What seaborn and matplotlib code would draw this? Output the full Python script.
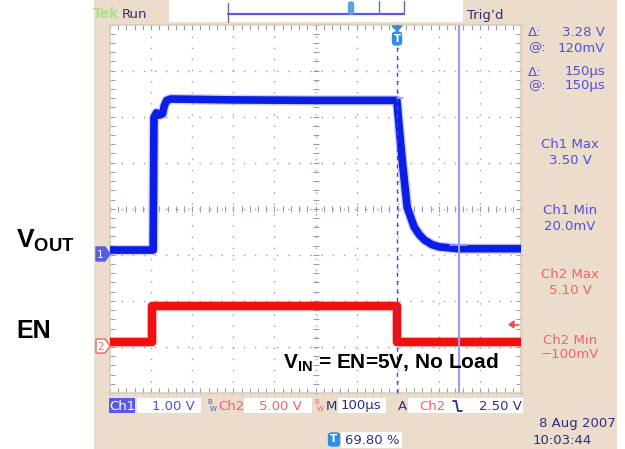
import numpy as np
import pandas as pd
import matplotlib
matplotlib.use("Agg")
import matplotlib.pyplot as plt
import seaborn as sns
from matplotlib.patches import Rectangle, Polygon, FancyBboxPatch
from matplotlib.lines import Line2D

t_vout_us = [-698, -593, -591, -585, -578, -570, -566, -560, -550, -400, -200, 0,
             6, 13, 25, 42, 55, 67, 85, 103, 150, 302]
vout_v = [0.02, 0.02, 2.90, 3.00, 2.95, 2.98, 3.15, 3.27, 3.30, 3.28, 3.27, 3.27,
          2.65, 1.97, 0.95, 0.52, 0.35, 0.24, 0.14, 0.09, 0.05, 0.05]
t_en_us = [-698, -596, -596, 0, 0, 302]
en_v = [0.0, 0.0, 5.0, 5.0, 0.0, 0.0]
cursor_t_us = [0, 150]
time_window_us = [-698, 302]

readouts = [("Δ:", "3.28 V"), ("@:", "120mV"), ("Δ:", "150µs"), ("@:", "150µs")]
meas_labels = ["Ch1 Max", "Ch1 Min", "Ch2 Max", "Ch2 Min"]
meas_values = ["3.50 V", "20.0mV", "5.10 V", "−100mV"]

df_vout = pd.DataFrame({"t": t_vout_us, "v": vout_v})
df_en = pd.DataFrame({"t": t_en_us, "v": en_v})

sns.set_style("white")
plt.rcParams["font.family"] = ["DejaVu Sans"]
plt.rcParams["mathtext.fontset"] = "custom"
plt.rcParams["mathtext.rm"] = "Liberation Sans"
plt.rcParams["mathtext.bf"] = "Liberation Sans:bold"

W, H = 625, 449
fig = plt.figure(figsize=(6.25, 4.49), dpi=100)
fig.patch.set_facecolor("white")

def fx(x):
    return x / W

def fy(y):
    return 1 - y / H

BEIGE = "#ecdccb"
NAVY = "#2e2e7a"
BLUE_T = "#5050dc"
RED_T = "#f06464"
TRACE_B = "#0a1ee6"
TRACE_R = "#f01010"
GRID_C = "#9a9abc"

def frect(x0, y0, x1, y1, **kw):
    r = Rectangle((fx(x0), fy(y1)), fx(x1) - fx(x0), fy(y0) - fy(y1),
                  transform=fig.transFigure, **kw)
    fig.add_artist(r)
    return r

def ftext(x, y, s, **kw):
    return fig.text(fx(x), fy(y), s, **kw)

# beige scope frame
frect(94, 0, 617, 449, facecolor=BEIGE, edgecolor="none", zorder=0)
# top record bar
frect(169, 0, 463, 22, facecolor="white", edgecolor="none", zorder=1)

L, T, R, B = 110, 24.5, 521, 393
rect = [fx(L), fy(B), fx(R) - fx(L), fy(T) - fy(B)]

# ---------- grid axes (division coordinates) ----------
axg = fig.add_axes(rect, zorder=1)
axg.set_facecolor("white")
axg.set_xlim(0, 10)
axg.set_ylim(0, 8)
axg.set_xticks(range(1, 10))
axg.set_yticks(range(1, 8))
axg.grid(True, color=GRID_C, linewidth=1.0, linestyle=(0, (1, 7)))
axg.tick_params(length=0, labelbottom=False, labelleft=False)
for s in axg.spines.values():
    s.set_color("#d4d2bc")
    s.set_linewidth(1.2)
minor_x = np.arange(0, 10.01, 0.2)
minor_y = np.arange(0, 8.01, 0.2)
for yy in (4, 0.05, 7.95):
    axg.plot(minor_x, np.full_like(minor_x, yy), ls="none", marker="|",
             ms=4, mew=0.8, color=GRID_C, clip_on=False)
for xx in (5, 0.04, 9.96):
    axg.plot(np.full_like(minor_y, xx), minor_y, ls="none", marker="_",
             ms=4, mew=0.8, color=GRID_C, clip_on=False)

# ---------- channel 2 (EN) ----------
ax2 = fig.add_axes(rect, zorder=2)
ax2.set_facecolor("none")
ax2.set_xlim(*time_window_us)
ax2.set_ylim(-7.153, 44.03)
ax2.axis("off")
sns.lineplot(data=df_en, x="t", y="v", ax=ax2, color=TRACE_R, alpha=0.2,
             linewidth=7.5, estimator=None, sort=False)
sns.lineplot(data=df_en, x="t", y="v", ax=ax2, color=TRACE_R,
             linewidth=6, estimator=None, sort=False)

# ---------- channel 1 (VOUT) ----------
ax1 = fig.add_axes(rect, zorder=3)
ax1.set_facecolor("none")
ax1.set_xlim(*time_window_us)
ax1.set_ylim(-3.083, 4.917)
ax1.axis("off")
sns.lineplot(data=df_vout, x="t", y="v", ax=ax1, color=TRACE_B, alpha=0.2,
             linewidth=7.5, estimator=None, sort=False)
sns.lineplot(data=df_vout, x="t", y="v", ax=ax1, color=TRACE_B,
             linewidth=5.5, estimator=None, sort=False)

# cursors
ax1.axvline(cursor_t_us[0], color="#4646dc", lw=1.0, ls=(0, (3, 3)))
ax1.axvline(cursor_t_us[1], color="#9c9cf0", lw=1.5)
ax1.plot([cursor_t_us[0], cursor_t_us[0] + 16], [3.28 + 0.05, 3.28 + 0.05],
         color="#9c9cf0", lw=1.2)
ax1.plot([cursor_t_us[1] - 20, cursor_t_us[1] + 20], [0.12, 0.12],
         color="#9c9cf0", lw=1.2)

# trigger marker at top
TB = "#2f8ee0"
fig.add_artist(Polygon([(fx(392), fy(26)), (fx(402), fy(26)), (fx(397), fy(31))],
                       closed=True, transform=fig.transFigure, color=TB, zorder=5))
fig.add_artist(FancyBboxPatch((fx(392.5), fy(45)), fx(9), fy(32) - fy(45),
                              boxstyle="round,pad=0.0,rounding_size=0.006",
                              transform=fig.transFigure, color=TB, zorder=5))
ftext(397, 39, "T", color="white", fontsize=7.5, fontweight="bold",
      ha="center", va="center", zorder=6)

# trigger level arrow (ch2)
fig.add_artist(Line2D([fx(511), fx(519)], [fy(324.5), fy(324.5)],
                      transform=fig.transFigure, color="#f05050", lw=1.2, zorder=6))
fig.add_artist(Polygon([(fx(509), fy(324.5)), (fx(514), fy(321)), (fx(514), fy(328))],
                       closed=True, transform=fig.transFigure, color="#f05050", zorder=6))

# channel ground markers
fig.add_artist(Polygon([(fx(96), fy(247)), (fx(105), fy(247)), (fx(110), fy(254)),
                        (fx(105), fy(261)), (fx(96), fy(261))], closed=True,
                       transform=fig.transFigure, facecolor="#5a5ae6",
                       edgecolor="#5a5ae6", zorder=6))
ftext(100.5, 254.5, "1", color="white", fontsize=7.5, ha="center", va="center", zorder=7)
fig.add_artist(Polygon([(fx(96), fy(339)), (fx(105), fy(339)), (fx(110), fy(346)),
                        (fx(105), fy(353)), (fx(96), fy(353))], closed=True,
                       transform=fig.transFigure, facecolor="white",
                       edgecolor="#f06464", lw=1, zorder=6))
ftext(100.5, 346.5, "2", color="#f06464", fontsize=7.5, ha="center", va="center", zorder=7)

# ---------- top bar ----------
ftext(93, 14, "Tek", color="#a8e088", fontsize=10, fontweight="bold", va="center")
ftext(122, 14, "Run", color=NAVY, fontsize=9.5, va="center")
ftext(467, 15, "Trig’d", color=NAVY, fontsize=9.5, va="center")
fig.add_artist(Line2D([fx(228), fx(404)], [fy(14), fy(14)],
                      transform=fig.transFigure, color="#5a5ae0", lw=1.6, zorder=3))
for xb, y0, y1 in ((228, 3, 22), (404, 1, 14)):
    fig.add_artist(Line2D([fx(xb), fx(xb)], [fy(y0), fy(y1)],
                          transform=fig.transFigure, color="#6a6aa0", lw=1.0, zorder=3))
fig.add_artist(Line2D([fx(379), fx(379)], [fy(1), fy(14)],
                      transform=fig.transFigure, color="#6a6ae0", lw=1.0, zorder=3))
fig.add_artist(FancyBboxPatch((fx(348.5), fy(14)), fx(5), fy(2) - fy(14),
                              boxstyle="round,pad=0.0,rounding_size=0.004",
                              transform=fig.transFigure, color="#5aa0e6", zorder=4))

# ---------- right panel readouts ----------
ys = [33, 48, 72, 86]
for (lab, val), yy in zip(readouts, ys):
    ftext(528, yy, lab, color=BLUE_T, fontsize=9.5, va="center")
    ftext(605, yy, val, color=BLUE_T, fontsize=9.5, va="center", ha="right")
meas_y = [(145, 160), (211, 226), (275, 290), (340, 355)]
meas_c = [BLUE_T, BLUE_T, RED_T, RED_T]
for lab, val, (y1, y2), c in zip(meas_labels, meas_values, meas_y, meas_c):
    ftext(570, y1, lab, color=c, fontsize=9.5, va="center", ha="center")
    ftext(570, y2, val, color=c, fontsize=9.5, va="center", ha="center")
ftext(616, 424, "8 Aug 2007", color=NAVY, fontsize=9.5, va="center", ha="right")
ftext(533, 440, "10:03:44", color=NAVY, fontsize=9.5, va="center", ha="left")

# ---------- bottom bar ----------
YB = 406
frect(109, 398, 135, 413, facecolor="#5a5ae6", edgecolor="none", zorder=2)
ftext(122, YB, "Ch1", color="white", fontsize=9.5, va="center", ha="center", zorder=3)
frect(137, 398, 201, 413, facecolor="white", edgecolor="none", zorder=2)
ftext(195, YB, "1.00 V", color=BLUE_T, fontsize=9.5, va="center", ha="right", zorder=3)
for xbw, c in ((207, BLUE_T), (314, RED_T)):
    ftext(xbw, 402, "B", color=c, fontsize=5, va="center", ha="left", zorder=3)
    ftext(xbw + 2.5, 409, "W", color=c, fontsize=5, va="center", ha="left", zorder=3)
ftext(218, YB, "Ch2", color=RED_T, fontsize=9.5, va="center", ha="left", zorder=3)
frect(244, 398, 312, 413, facecolor="white", edgecolor="none", zorder=2)
ftext(302, YB, "5.00 V", color=RED_T, fontsize=9.5, va="center", ha="right", zorder=3)
ftext(325.5, YB, "M", color=NAVY, fontsize=9.5, va="center", ha="left", zorder=3)
frect(338, 398, 386, 413, facecolor="white", edgecolor="none", zorder=2)
ftext(381, YB, "100µs", color=NAVY, fontsize=9.5, va="center", ha="right", zorder=3)
ftext(398, YB, "A", color=NAVY, fontsize=9.5, va="center", ha="left", zorder=3)
frect(408, 398, 523, 413, facecolor="white", edgecolor="none", zorder=2)
ftext(419, YB, "Ch2", color=RED_T, fontsize=9.5, va="center", ha="left", zorder=3)
fig.add_artist(Line2D([fx(453), fx(456), fx(458), fx(462)],
                      [fy(401), fy(401), fy(411), fy(411)],
                      transform=fig.transFigure, color=NAVY, lw=1.3, zorder=3))
ftext(522, YB, "2.50 V", color=NAVY, fontsize=9.5, va="center", ha="right", zorder=3)
fig.add_artist(FancyBboxPatch((fx(328.5), fy(446)), fx(11), fy(433) - fy(446),
                              boxstyle="round,pad=0.0,rounding_size=0.005",
                              transform=fig.transFigure, color=TB, zorder=3))
ftext(334, 439.5, "T", color="white", fontsize=7.5, fontweight="bold",
      ha="center", va="center", zorder=4)
frect(341, 432, 402, 448, facecolor="white", edgecolor="none", zorder=2)
ftext(345, 440, "69.80 %", color=NAVY, fontsize=9.5, va="center", ha="left", zorder=3)

# ---------- annotations ----------
ftext(16, 248, r"$\mathbf{V_{OUT}}$", fontsize=19, color="black", va="baseline", ha="left")
ftext(16, 338, "EN", fontsize=18, fontweight="bold", family="Liberation Sans",
      color="black", va="baseline", ha="left")
ftext(283, 369, r"$\mathbf{V_{IN}}$" + " = EN=5V, No Load", fontsize=15,
      fontweight="bold", family="Liberation Sans", color="black",
      va="baseline", ha="left", zorder=10)

fig.savefig("out.png", dpi=100)
